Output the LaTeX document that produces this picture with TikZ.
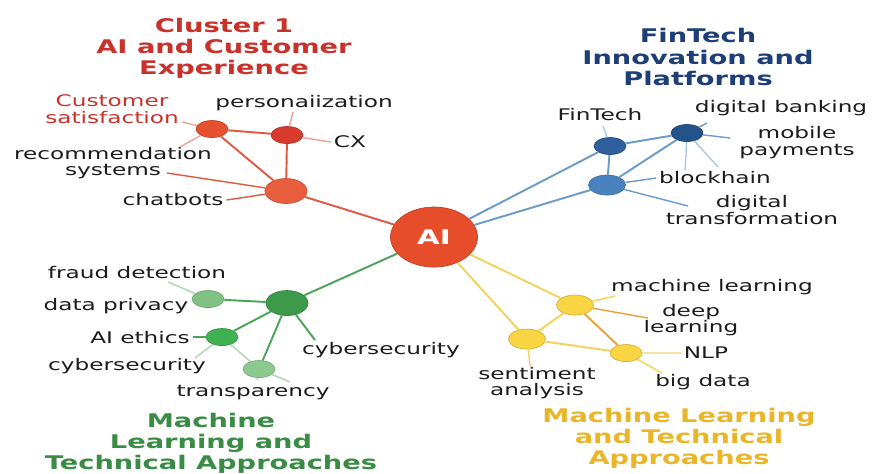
\documentclass[tikz,border=0pt]{standalone}
\usepackage{fontspec}
\setmainfont{DejaVu Sans}
\usetikzlibrary{shapes.geometric}

\definecolor{textgray}{HTML}{1C1C1C}
\definecolor{aifill}{HTML}{E64D2A}
\definecolor{redtitle}{HTML}{C8322B}
\definecolor{redA}{HTML}{E5502F}
\definecolor{redB}{HTML}{D63B2E}
\definecolor{redC}{HTML}{E85F3E}
\definecolor{redline}{HTML}{E05A42}
\definecolor{redtwig}{HTML}{F2A393}
\definecolor{bluetitle}{HTML}{1E3E78}
\definecolor{blueA}{HTML}{2F5F9C}
\definecolor{blueB}{HTML}{24528A}
\definecolor{blueC}{HTML}{4A82C0}
\definecolor{blueline}{HTML}{6B9BCB}
\definecolor{bluetwig}{HTML}{A9C8E2}
\definecolor{greentitle}{HTML}{3A8C45}
\definecolor{greenA}{HTML}{3C9A4A}
\definecolor{greenB}{HTML}{7FC283}
\definecolor{greenC}{HTML}{3FB152}
\definecolor{greenD}{HTML}{8BC98F}
\definecolor{greenline}{HTML}{4DA459}
\definecolor{greentwig}{HTML}{ABD8AD}
\definecolor{yellowtitle}{HTML}{E9B62A}
\definecolor{yellowA}{HTML}{F9D443}
\definecolor{yellowline}{HTML}{F4D25C}
\definecolor{yellowtwig}{HTML}{F7E3A0}
\definecolor{orangeline}{HTML}{E9A338}

\begin{document}
\begin{tikzpicture}[x=0.01379cm, y=-0.02cm, xscale=1.45, transform shape,
		lbl/.style={font=\fontsize{9.1}{9.6}\selectfont, text=textgray, align=center, inner sep=1pt},
		title/.style={font=\fontsize{10.7}{12}\selectfont\bfseries, align=center},
		leafdot/.style={ellipse, inner sep=0pt, minimum width=0.44cm, minimum height=0.34cm, draw=#1!85!black, fill=#1},
		middot/.style={leafdot=#1, minimum width=0.51cm, minimum height=0.40cm},
		hubdot/.style={leafdot=#1, minimum width=0.58cm, minimum height=0.50cm},
		link/.style={line width=1.1pt, draw=#1},
		twig/.style={line width=0.8pt, draw=#1}]

			\fill [white] (0,0) rectangle (874,473);
			\useasboundingbox (0,0) rectangle (874,473);

			\node (ai) [circle, fill=aifill, draw=aifill!85!black, minimum size=1.2cm, inner sep=0pt, text=white, font=\fontsize{11.5}{12}\selectfont\bfseries] at (434,237) {AI};

			% customer experience
			\node (t1) [title, text=redtitle] at (224,48) {Cluster 1\\AI and Customer\\Experience};
			\node (cs) [leafdot=redA] at (212,129) {};
			\node (pers) [leafdot=redB] at (287,135) {};
			\node (chat) [hubdot=redC] at (286,191) {};
			\node (cslbl) [lbl, text=redtitle] at (112,109) {Customer\\satisfaction};
			\node (perslbl) [lbl] at (304,103) {personaiization};
			\node (cxlbl) [lbl] at (350,142) {CX};
			\node (reclbl) [lbl] at (113,163) {recommendation\\systems};
			\node (chatlbl) [lbl] at (173,200) {chatbots};
			\coordinate (cs1) at (182,122);
			\coordinate (cs2) at (180,147);
			\coordinate (ch1) at (167,173);
			\coordinate (pe1) at (293,112);

			\draw [link=redline] (cs) -- (pers);
			\draw [link=redline] (cs) -- (chat);
			\draw [link=redline] (pers) -- (chat);
			\draw [link=redline] (chat) -- (ai);
			\draw [twig=redtwig] (cs) -- (cs1);
			\draw [twig=redtwig] (cs) -- (cs2);
			\draw [twig=redline] (chat) -- (ch1);
			\draw [twig=redline] (chat) -- (chatlbl.east);
			\draw [twig=redtwig] (pers) -- (pe1);
			\draw [twig=redtwig] (pers) -- (cxlbl.west);

			% fintech
			\node (t2) [title, text=bluetitle] at (698,57) {FinTech\\Innovation and\\Platforms};
			\node (fin) [leafdot=blueA] at (610,146) {};
			\node (db) [leafdot=blueB] at (687,133) {};
			\node (blk) [middot=blueC] at (607,185) {};
			\node (finlbl) [lbl] at (600,115) {FinTech};
			\node (dblbl) [lbl] at (781,108) {digital banking};
			\node (mplbl) [lbl] at (797,143) {mobile\\payments};
			\node (blklbl) [lbl] at (715,178) {blockhain};
			\node (dtlbl) [lbl] at (752,210) {digital\\transformation};
			\coordinate (fi1) at (603,126);
			\coordinate (db1) at (707,123);
			\coordinate (db2) at (730,138);
			\coordinate (db3) at (685,170);
			\coordinate (db4) at (718,167);
			\coordinate (bl1) at (688,206);

			\draw [link=blueline] (ai) -- (fin);
			\draw [link=blueline] (ai) -- (blk);
			\draw [link=blueline] (fin) -- (db);
			\draw [link=blueline] (fin) -- (blk);
			\draw [link=blueline] (blk) -- (db);
			\draw [twig=bluetwig] (fin) -- (fi1);
			\draw [twig=blueline] (db) -- (db1);
			\draw [twig=blueline] (db) -- (db2);
			\draw [twig=bluetwig] (db) -- (db3);
			\draw [twig=bluetwig] (db) -- (db4);
			\draw [twig=blueline] (blk) -- (blklbl.west);
			\draw [twig=blueline] (blk) -- (bl1);

			% ethics and security
			\node (t3) [title, text=greentitle] at (211,443) {Machine\\Learning and\\Technical Approaches};
			\node (hub) [hubdot=greenA] at (287,303) {};
			\node (dp) [leafdot=greenB] at (208,299) {};
			\node (eth) [leafdot=greenC] at (222,337) {};
			\node (tr) [leafdot=greenD] at (259,369) {};
			\node (fdlbl) [lbl] at (137,272) {fraud detection};
			\node (dplbl) [lbl] at (116,306) {data privacy};
			\node (ethlbl) [lbl] at (140,337) {AI ethics};
			\node (cylbl) [lbl] at (127,366) {cybersecurity};
			\node (trlbl) [lbl] at (253,392) {transparency};
			\node (cy2lbl) [lbl] at (381,350) {cybersecurity};
			\coordinate (hu1) at (315,340);
			\coordinate (dp1) at (168,282);
			\coordinate (et1) at (195,358);
			\coordinate (tr1) at (257,380);
			\coordinate (tr2) at (290,382);

			\draw [link=greenline] (ai) -- (hub);
			\draw [link=greenline] (hub) -- (dp);
			\draw [link=greenline] (hub) -- (eth);
			\draw [link=greenline] (hub) -- (tr);
			\draw [link=greenline] (hub) -- (hu1);
			\draw [twig=greentwig] (dp) -- (dp1);
			\draw [twig=greenline] (eth) -- (ethlbl.east);
			\draw [twig=greentwig] (eth) -- (et1);
			\draw [twig=greentwig] (eth) -- (tr);
			\draw [twig=greentwig] (tr) -- (tr1);
			\draw [twig=greentwig] (tr) -- (tr2);

			% machine learning
			\node (t4) [title, text=yellowtitle] at (679,438) {Machine Learning\\and Technical\\Approaches};
			\node (ml) [middot=yellowA] at (575,305) {};
			\node (sa) [middot=yellowA] at (527,339) {};
			\node (nlp) [leafdot=yellowA] at (626,353) {};
			\node (mllbl) [lbl] at (712,287) {machine learning};
			\node (dllbl) [lbl] at (691,320) {deep\\learning};
			\node (nlplbl) [lbl] at (706,353) {NLP};
			\node (bdlbl) [lbl] at (703,382) {big data};
			\node (salbl) [lbl] at (537,383) {sentiment\\analysis};
			\coordinate (ml1) at (615,296);
			\coordinate (ml2) at (648,318);
			\coordinate (sa1) at (530,366);
			\coordinate (nl1) at (662,373);

			\draw [link=yellowline] (ai) -- (ml);
			\draw [link=yellowline] (ai) -- (sa);
			\draw [link=yellowline] (ml) -- (sa);
			\draw [link=orangeline] (ml) -- (nlp);
			\draw [link=yellowline] (sa) -- (nlp);
			\draw [twig=yellowline] (ml) -- (ml1);
			\draw [twig=orangeline] (ml) -- (ml2);
			\draw [twig=yellowline] (sa) -- (sa1);
			\draw [twig=yellowtwig] (nlp) -- (nlplbl.west);
			\draw [twig=yellowline] (nlp) -- (nl1);
		\end{tikzpicture}
\end{document}
